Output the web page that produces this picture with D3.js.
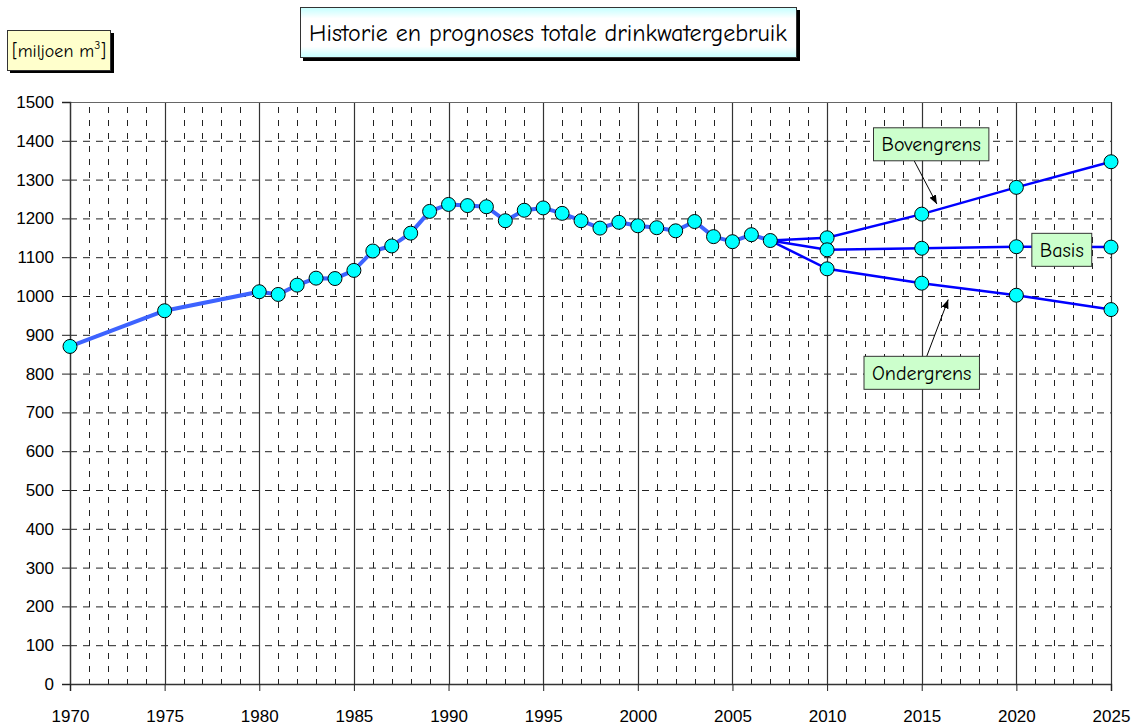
<!DOCTYPE html>
<html>
<head>
<meta charset="utf-8">
<script src="https://cdn.jsdelivr.net/npm/d3@7"></script>
<style>
  body { margin: 0; background: #fff; }
  svg { display: block; }
</style>
</head>
<body>
<div id="chart"></div>
<script>
// Historic drinking water use (million m3) and the three forecasts
var histYears = [1970, 1975, 1980, 1981, 1982, 1983, 1984, 1985, 1986, 1987, 1988, 1989, 1990,
  1991, 1992, 1993, 1994, 1995, 1996, 1997, 1998, 1999, 2000, 2001, 2002, 2003, 2004, 2005, 2006, 2007];
var histValues = [870, 962, 1011, 1004, 1028, 1046, 1045, 1066, 1116, 1129, 1162, 1218, 1236,
  1233, 1230, 1194, 1221, 1227, 1213, 1194, 1175, 1190, 1181, 1176, 1168, 1192, 1153, 1140, 1158, 1143];

var forecastYears = [2007, 2010, 2015, 2020, 2025];
var upperValues = [1143, 1150, 1211, 1280, 1346];
var basisValues = [1143, 1119, 1123, 1127, 1126];
var lowerValues = [1143, 1070, 1033, 1002, 965];

var yTicks = [0, 100, 200, 300, 400, 500, 600, 700, 800, 900, 1000, 1100, 1200, 1300, 1400, 1500];
var xTicks = [1970, 1975, 1980, 1985, 1990, 1995, 2000, 2005, 2010, 2015, 2020, 2025];

var titleText = "Historie en prognoses totale drinkwatergebruik";

// labels: text, box centre (year, value), arrow tip (year, value) or null
var labels = [
  { text: "Bovengrens", x: 2015.5, y: 1391, tipX: 2015.8, tipY: 1237 },
  { text: "Basis", x: 2022.4, y: 1119, tipX: null, tipY: null },
  { text: "Ondergrens", x: 2015.0, y: 802, tipX: 2016.4, tipY: 991 }
];

var svgWidth = 1142, svgHeight = 728;
var comic = "'Comic Sans MS', 'Comic Neue', Lato, sans-serif";
var tickFont = "'Liberation Sans', Arial, sans-serif";

var svg = d3.select("#chart").append("svg")
  .attr("width", svgWidth)
  .attr("height", svgHeight);

var defs = svg.append("defs");
var grad = defs.append("linearGradient")
  .attr("id", "titleGrad").attr("x1", 0).attr("y1", 0).attr("x2", 0).attr("y2", 1);
grad.append("stop").attr("offset", "0").attr("stop-color", "#c4ffff");
grad.append("stop").attr("offset", "0.22").attr("stop-color", "#ffffff");
grad.append("stop").attr("offset", "0.78").attr("stop-color", "#ffffff");
grad.append("stop").attr("offset", "1").attr("stop-color", "#c4ffff");

defs.append("marker")
  .attr("id", "arrow")
  .attr("viewBox", "0 0 10 10")
  .attr("refX", 10).attr("refY", 5)
  .attr("markerWidth", 9).attr("markerHeight", 9)
  .attr("markerUnits", "userSpaceOnUse")
  .attr("orient", "auto")
  .append("path")
  .attr("d", "M0,1 L10,5 L0,9 Z")
  .attr("fill", "#000");

// scales
var x = d3.scaleLinear().domain([1970, 2025]).range([70, 1111]);
var y = d3.scaleLinear().domain([0, 1500]).range([684, 102]);

// grid
var grid = svg.append("g");
var minorYears = d3.range(1971, 2025).filter(function(d) { return d % 5 !== 0; });

grid.selectAll(".hgrid")
  .data(yTicks.filter(function(d) { return d > 0 && d < 1500; }))
  .enter().append("line")
  .attr("x1", x(1970)).attr("x2", x(2025))
  .attr("y1", function(d) { return y(d) + 0.5; })
  .attr("y2", function(d) { return y(d) + 0.5; })
  .attr("stroke", "#222").attr("stroke-width", 1)
  .attr("stroke-dasharray", "7,6");

grid.selectAll(".vminor")
  .data(minorYears)
  .enter().append("line")
  .attr("x1", function(d) { return Math.round(x(d)) + 0.5; })
  .attr("x2", function(d) { return Math.round(x(d)) + 0.5; })
  .attr("y1", y(1500) + 5).attr("y2", y(0))
  .attr("stroke", "#222").attr("stroke-width", 1)
  .attr("stroke-dasharray", "6,7");

grid.selectAll(".vmajor")
  .data(xTicks.filter(function(d) { return d > 1970; }))
  .enter().append("line")
  .attr("x1", function(d) { return Math.round(x(d)) + 0.5; })
  .attr("x2", function(d) { return Math.round(x(d)) + 0.5; })
  .attr("y1", y(1500)).attr("y2", y(0))
  .attr("stroke", "#333").attr("stroke-width", 1.2);

grid.append("line")
  .attr("x1", x(1970)).attr("x2", x(2025))
  .attr("y1", y(1500) + 0.5).attr("y2", y(1500) + 0.5)
  .attr("stroke", "#666").attr("stroke-width", 1.2);

// axes
var yAxis = svg.append("g")
  .attr("transform", "translate(" + x(1970) + ",0)")
  .call(d3.axisLeft(y).tickValues(yTicks).tickFormat(d3.format("d")).tickSize(8).tickPadding(8));
var xAxis = svg.append("g")
  .attr("transform", "translate(0," + y(0) + ")")
  .call(d3.axisBottom(x).tickValues(xTicks).tickFormat(d3.format("d")).tickSize(7).tickPadding(19));

[yAxis, xAxis].forEach(function(ax) {
  ax.select(".domain").attr("stroke", "#333").attr("stroke-width", 1.5);
  ax.selectAll(".tick line").attr("stroke", "#222");
  ax.selectAll(".tick text")
    .attr("fill", "#000")
    .style("font-family", tickFont)
    .style("font-size", "17px");
});

// lines
var line = d3.line()
  .x(function(d) { return x(d[0]); })
  .y(function(d) { return y(d[1]); });

var histData = d3.zip(histYears, histValues);
var forecasts = [upperValues, basisValues, lowerValues].map(function(vals) {
  return d3.zip(forecastYears, vals);
});

svg.append("path")
  .datum(histData)
  .attr("d", line)
  .attr("fill", "none")
  .attr("stroke", "#3d63ff")
  .attr("stroke-width", 4)
  .attr("stroke-linejoin", "round");

svg.selectAll(".forecast")
  .data(forecasts)
  .enter().append("path")
  .attr("d", line)
  .attr("fill", "none")
  .attr("stroke", "#0000ff")
  .attr("stroke-width", 2.5);

// markers
var allPoints = histData.concat(forecasts[0].slice(1), forecasts[1].slice(1), forecasts[2].slice(1));
svg.selectAll(".dot")
  .data(allPoints)
  .enter().append("circle")
  .attr("cx", function(d) { return x(d[0]); })
  .attr("cy", function(d) { return y(d[1]); })
  .attr("r", 7)
  .attr("fill", "#00ffff")
  .attr("stroke", "#000")
  .attr("stroke-width", 1);

// annotation labels
labels.forEach(function(l) {
  var cx = x(l.x), cy = y(l.y);
  if (l.tipX !== null) {
    var startY = l.tipY > l.y ? cy - 16.5 : cy + 16.5;
    svg.append("line")
      .attr("x1", cx - (l.tipY > l.y ? -5 : 17)).attr("y1", startY)
      .attr("x2", x(l.tipX)).attr("y2", y(l.tipY))
      .attr("stroke", "#000").attr("stroke-width", 1)
      .attr("marker-end", "url(#arrow)");
  }
  var g = svg.append("g");
  var t = g.append("text")
    .attr("x", cx).attr("y", cy + 7)
    .attr("text-anchor", "middle")
    .style("font-family", comic)
    .style("font-size", "20px")
    .attr("fill", "#000")
    .text(l.text);
  var w = t.node().getComputedTextLength() + 16;
  g.insert("rect", "text")
    .attr("x", cx - w / 2).attr("y", cy - 16.5)
    .attr("width", w).attr("height", 33)
    .attr("fill", "#ccffcc")
    .attr("stroke", "#333").attr("stroke-width", 1);
});

// title box
svg.append("rect")
  .attr("x", 303).attr("y", 10).attr("width", 497).attr("height", 51)
  .attr("fill", "#000");
svg.append("rect")
  .attr("x", 300.5).attr("y", 7.5).attr("width", 496).attr("height", 50)
  .attr("fill", "url(#titleGrad)")
  .attr("stroke", "#333");
svg.append("text")
  .attr("x", 548).attr("y", 41)
  .attr("text-anchor", "middle")
  .style("font-family", comic)
  .style("font-size", "24px")
  .attr("fill", "#000")
  .text(titleText);

// unit box
svg.append("rect")
  .attr("x", 10).attr("y", 33).attr("width", 104).attr("height", 40)
  .attr("fill", "#000");
svg.append("rect")
  .attr("x", 7.5).attr("y", 30.5).attr("width", 103).attr("height", 40)
  .attr("fill", "#ffffcc")
  .attr("stroke", "#333");
var unit = svg.append("text")
  .attr("x", 59).attr("y", 57)
  .attr("text-anchor", "middle")
  .style("font-family", comic)
  .style("font-size", "18px")
  .attr("fill", "#000");
unit.append("tspan").text("[miljoen m");
unit.append("tspan").attr("dy", -8).style("font-size", "12px").text("3");
unit.append("tspan").attr("dy", 8).text("]");
</script>
</body>
</html>
